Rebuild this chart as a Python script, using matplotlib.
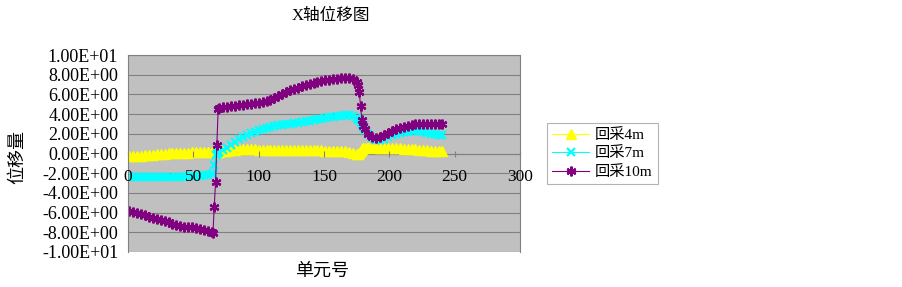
import matplotlib
matplotlib.use("Agg")
import matplotlib.pyplot as plt
import numpy as np

plt.rcParams['font.family'] = ['Liberation Serif', 'Noto Sans CJK SC', 'DejaVu Sans']
plt.rcParams['axes.unicode_minus'] = False

title = "X轴位移图"
xlabel = "单元号"
ylabel = "位移量"
series_names = ["回采4m", "回采7m", "回采10m"]

elements = [1, 4, 7, 10, 13, 16, 19, 22, 25, 28, 31, 34, 37, 40, 43, 46, 49, 52, 55, 58, 61, 64,
            65, 66, 67, 68, 69, 70,
            73, 76, 79, 82, 85, 88, 91, 94, 97, 100, 103, 106, 109, 112, 115, 118, 121, 124, 127, 130,
            133, 136, 139, 142, 145, 148, 151, 154, 157, 160, 163, 166, 169, 172, 175,
            176, 177, 178, 179, 180, 181,
            184, 187, 190, 193, 196, 199, 202, 205, 208, 211, 214, 217, 220, 223, 226, 229, 232, 235, 238, 240]

disp_4m = [-0.30, -0.28, -0.25, -0.22, -0.20, -0.17, -0.15, -0.10, -0.05, 0.00, 0.02, 0.05, 0.07, 0.08,
           0.10, 0.10, 0.12, 0.12, 0.13, 0.14, 0.15, 0.15,
           0.15, 0.15, 0.15, 0.20, 0.20, 0.20,
           0.25, 0.30, 0.35, 0.40, 0.45, 0.45, 0.45, 0.45, 0.42, 0.40, 0.40, 0.40, 0.38, 0.38, 0.36, 0.36,
           0.35, 0.35, 0.35, 0.35, 0.34, 0.34, 0.33, 0.33, 0.32, 0.32, 0.30, 0.30, 0.30, 0.28, 0.26, 0.25,
           0.20, 0.10, 0.00,
           0.00, 0.10, 0.30, 0.45, 0.55, 0.60,
           0.65, 0.65, 0.60, 0.60, 0.60, 0.60, 0.60, 0.55, 0.55, 0.50, 0.50, 0.45, 0.45, 0.40, 0.40, 0.35,
           0.30, 0.30, 0.25, 0.25]

disp_7m = [-2.40, -2.40, -2.40, -2.40, -2.40, -2.40, -2.40, -2.40, -2.40, -2.40, -2.40, -2.40, -2.38, -2.37,
           -2.35, -2.33, -2.30, -2.28, -2.25, -2.22, -2.18, -2.12,
           -2.10, -1.20, -0.20, 0.00, 0.10, 0.20,
           0.40, 0.60, 0.90, 1.20, 1.45, 1.65, 1.85, 2.05, 2.20, 2.35, 2.50, 2.60, 2.70, 2.80, 2.85, 2.90,
           2.95, 3.00, 3.05, 3.10, 3.20, 3.30, 3.35, 3.45, 3.50, 3.55, 3.60, 3.70, 3.75, 3.80, 3.85, 3.90,
           3.90, 3.80, 3.60,
           3.50, 3.40, 3.20, 3.00, 2.70, 2.40,
           2.00, 1.60, 1.40, 1.35, 1.50, 1.70, 1.85, 1.95, 2.05, 2.15, 2.20, 2.25, 2.25, 2.25, 2.20, 2.10,
           2.00, 1.95, 1.90, 1.90]

disp_10m = [-5.80, -5.90, -6.00, -6.10, -6.25, -6.40, -6.50, -6.65, -6.80, -6.90, -7.00, -7.15, -7.30, -7.40,
            -7.45, -7.45, -7.50, -7.60, -7.65, -7.75, -7.85, -7.95,
            -8.10, -5.40, -2.90, 0.90, 4.50, 4.60,
            4.70, 4.75, 4.80, 4.85, 4.90, 4.95, 5.00, 5.05, 5.10, 5.15, 5.25, 5.35, 5.45, 5.60, 5.80, 6.00,
            6.20, 6.40, 6.55, 6.70, 6.85, 7.00, 7.10, 7.20, 7.30, 7.40, 7.45, 7.50, 7.55, 7.60, 7.65, 7.65,
            7.65, 7.55, 7.30,
            7.00, 6.20, 4.80, 3.40, 2.80, 2.50,
            2.00, 1.70, 1.60, 1.70, 1.90, 2.10, 2.30, 2.45, 2.60, 2.70, 2.80, 2.90, 2.95, 3.00, 3.00, 3.00,
            3.00, 3.00, 3.00, 3.00]

y_ticks = [-10, -8, -6, -4, -2, 0, 2, 4, 6, 8, 10]
x_ticks = [0, 50, 100, 150, 200, 250, 300]

fig = plt.figure(figsize=(9.03, 2.87), dpi=100)
ax = fig.add_axes([128 / 903, (287 - 252) / 287, 392 / 903, 197 / 287])
ax.set_facecolor('#C0C0C0')

for yv in y_ticks:
    ax.axhline(yv, color='#808080', lw=0.8, zorder=1)

ax.plot(elements, disp_4m, color='#FFFF00', lw=0.8, marker='^', ms=6.5, mec='#FFFF00', mfc='#FFFF00',
        label=series_names[0], zorder=2.1)
ax.plot(elements, disp_7m, color='#00FFFF', lw=0.8, marker='x', ms=6, mew=1.6, mec='#00FFFF',
        label=series_names[1], zorder=2.2)
ax.plot(elements, disp_10m, color='#800080', lw=0.8, marker=(6, 2, 0), ms=7, mew=1.6, mec='#800080',
        label=series_names[2], zorder=2.3)

ax.set_xlim(0, 300)
ax.set_ylim(-10, 10)
ax.set_yticks(y_ticks)
ax.set_yticklabels([f"{v:.2E}" for v in y_ticks])
ax.set_xticks(x_ticks)
ax.set_xticklabels([str(v) for v in x_ticks])
ax.set_axisbelow(False)

for s in ['top', 'right', 'left']:
    ax.spines[s].set_color('#808080')
    ax.spines[s].set_linewidth(0.8)
ax.spines['bottom'].set_position(('data', 0))
ax.spines['bottom'].set_color('#808080')
ax.spines['bottom'].set_linewidth(0.8)
ax.spines['bottom'].set_zorder(1.5)

ax.tick_params(axis='x', direction='inout', length=5, color='#808080', labelsize=12.5, pad=9)
ax.tick_params(axis='y', direction='out', length=0, labelsize=13, pad=7)

fig.text(331 / 903, 1 - 16 / 287, title, ha='center', va='center', fontsize=12)
fig.text(322 / 903, 1 - 271 / 287, xlabel, ha='center', va='center', fontsize=13)
fig.text(18 / 903, 1 - 157 / 287, ylabel, ha='center', va='center', fontsize=13, rotation=90)

leg = fig.legend(loc='center left', bbox_to_anchor=(547 / 903, 1 - 153.5 / 287), fontsize=11,
                 frameon=True, fancybox=False, edgecolor='#A0A0A0', handlelength=2.4,
                 borderpad=0.35, labelspacing=0.3, handletextpad=0.4, borderaxespad=0)
leg.get_frame().set_linewidth(0.8)

fig.savefig('out.png', dpi=100)
